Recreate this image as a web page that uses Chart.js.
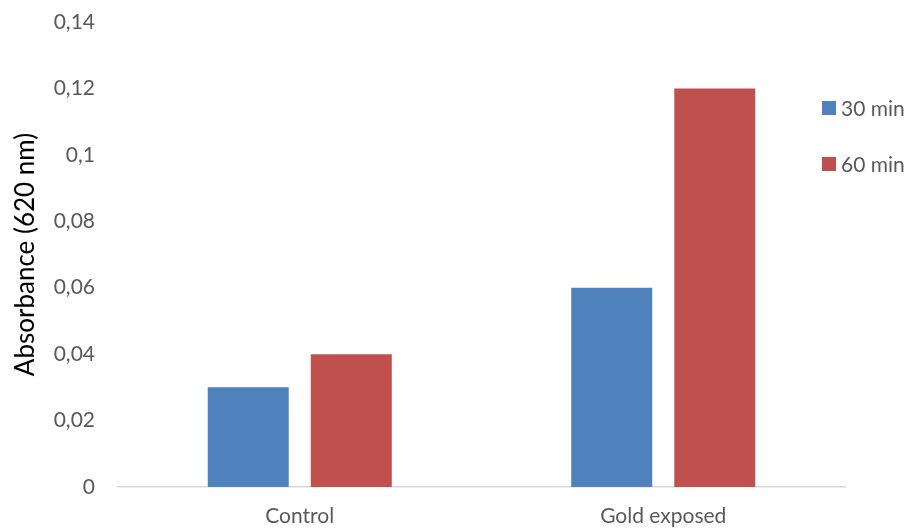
<!DOCTYPE html>
<html>
<head>
<meta charset="utf-8">
<script src="https://cdn.jsdelivr.net/npm/chart.js@4"></script>
<style>
  html, body { margin: 0; padding: 0; background: #fff; }
  #wrap { width: 908px; height: 529px; }
</style>
</head>
<body>
<div id="wrap"><canvas id="absChart"></canvas></div>
<script>
// Data
const categories = ['Control', 'Gold exposed'];
const series30 = [0.03, 0.06];
const series60 = [0.04, 0.12];
const seriesLabels = ['30 min', '60 min'];
const yTicks = [0, 0.02, 0.04, 0.06, 0.08, 0.1, 0.12, 0.14];

const textColor = '#595959';
const fontFamily = 'Lato, "Open Sans", sans-serif';

// Legend drawn at the right, like the Excel original
const sideLegend = {
    id: 'sideLegend',
    afterDraw(chart) {
        const {ctx} = chart;
        ctx.save();
        ctx.font = '21px ' + fontFamily;
        ctx.textBaseline = 'middle';
        chart.data.datasets.forEach((ds, i) => {
            const y = 108 + i * 56;
            ctx.fillStyle = ds.backgroundColor;
            ctx.fillRect(822, y - 7, 14, 14);
            ctx.fillStyle = textColor;
            ctx.fillText(ds.label, 841, y + 1);
        });
        ctx.restore();
    }
};

new Chart(document.getElementById('absChart').getContext('2d'), {
    type: 'bar',
    data: {
        labels: categories,
        datasets: [
            { label: seriesLabels[0], data: series30, backgroundColor: '#4F81BD' },
            { label: seriesLabels[1], data: series60, backgroundColor: '#C0504D' }
        ]
    },
    options: {
        responsive: true,
        maintainAspectRatio: false,
        animation: false,
        layout: { autoPadding: false, padding: { top: 8, right: 63, left: 0, bottom: 0 } },
        datasets: {
            bar: { categoryPercentage: 0.567, barPercentage: 0.786 }
        },
        scales: {
            x: {
                afterFit(scale) { scale.height = 42; },
                grid: { display: false, drawTicks: false },
                border: { color: '#D9D9D9', width: 1.5 },
                ticks: { color: textColor, font: { family: fontFamily, size: 21 }, padding: 17 }
            },
            y: {
                min: 0,
                max: 0.14,
                afterBuildTicks(axis) {
                    axis.ticks = yTicks.map(v => ({ value: v }));
                },
                afterFit(scale) { scale.width = 118; },
                // hidden tick marks push labels left without adding top padding
                grid: { display: false, drawTicks: true, tickLength: 13.6 },
                border: { display: false },
                ticks: {
                    color: textColor,
                    font: { family: fontFamily, size: 21 },
                    padding: 9.4,
                    callback: v => String(Math.round(v * 100) / 100).replace('.', ',')
                },
                title: {
                    display: true,
                    text: 'Absorbance (620 nm)',
                    color: '#000',
                    font: { family: fontFamily, size: 26 },
                    padding: { top: 10, bottom: 0 }
                }
            }
        },
        plugins: {
            legend: { display: false },
            tooltip: { enabled: false }
        }
    },
    plugins: [sideLegend]
});
</script>
</body>
</html>
